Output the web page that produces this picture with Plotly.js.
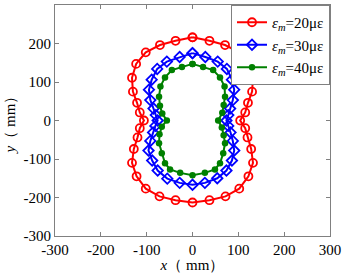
<!DOCTYPE html>
<html>
<head>
<meta charset="utf-8">
<script src="https://cdn.plot.ly/plotly-3.0.1.min.js"></script>
<style>html,body{margin:0;padding:0;background:#fff;}#chart{width:342px;height:273px;}</style>
</head>
<body>
<div id="chart"></div>
<script>
// Series names
var seriesNames = ['<i>ε</i><sub><i>m</i></sub>=20με', '<i>ε</i><sub><i>m</i></sub>=30με', '<i>ε</i><sub><i>m</i></sub>=40με'];

// Red: εm = 20με
var x20 = [0,-37,-71,-102,-123,-132,-130,-121,-115,-106,
           -115,-120,-128,-132,-122,-102,-72,-37,0,
           37,72,102,122,132,128,120,115,104,
           115,121,130,132,123,102,71,37,0];
var y20 = [216,207,196,177,147,111,75,46,21,0,
           -20,-44,-74,-110,-145,-177,-197,-207,-213,
           -207,-197,-177,-145,-110,-74,-44,-20,0,
           21,46,75,111,147,177,196,207,216];

// Blue: εm = 30με
var x30 = [0,-28,-56,-77,-89,-95,-92,-85,-80,-76,
           -81,-86,-92,-96,-88,-76,-55,-28,0,
           27,54,74,86,91,88,83,78,74,
           78,82,88,91,86,75,55,28,0];
var y30 = [175,165,153,134,106,80,53,31,14,0,
           -14,-31,-53,-78,-104,-130,-151,-162,-167,
           -162,-150,-130,-104,-78,-53,-31,-14,0,
           14,31,53,80,106,134,153,165,175];

// Green: εm = 40με
var x40 = [0,-23,-45,-60,-70,-73,-71,-66,-56,
           -67,-72,-73,-67,-60,-49,-27,0,
           27,49,60,67,71,68,64,56,
           65,68,71,70,60,45,23,0];
var y40 = [147,139,131,112,88,62,38,18,0,
           -16,-36,-59,-85,-111,-127,-136,-142,
           -136,-127,-111,-85,-59,-38,-18,0,
           20,40,62,88,112,131,139,147];

// Tick labels
var tickVals = [-300,-200,-100,0,100,200,300];
var tickText = ['-300','-200','-100','0','100','200','300'];

var serif = 'Liberation Serif, Times New Roman, serif';

var traces = [
  {x:x20, y:y20, name:seriesNames[0], type:'scatter', mode:'lines+markers',
   line:{color:'#ff0000', width:2},
   marker:{symbol:'circle-open', size:8, color:'#ff0000', line:{width:1.8, color:'#ff0000'}}},
  {x:x30, y:y30, name:seriesNames[1], type:'scatter', mode:'lines+markers',
   line:{color:'#0000ff', width:2},
   marker:{symbol:'diamond-open', size:8, color:'#0000ff', line:{width:1.8, color:'#0000ff'}}},
  {x:x40, y:y40, name:seriesNames[2], type:'scatter', mode:'lines+markers',
   line:{color:'#008000', width:2},
   marker:{symbol:'circle', size:6.5, color:'#008000'}}
];

var axisCommon = {
  range:[-300,300], tickmode:'array', tickvals:tickVals, ticktext:tickText,
  showgrid:false, zeroline:false, showline:true, linecolor:'#808080', linewidth:1,
  mirror:'ticks', ticks:'inside', ticklen:4, tickcolor:'#808080', tickwidth:1,
  tickfont:{family:serif, size:15, color:'#000'}, automargin:false
};

var layout = {
  width:342, height:273,
  margin:{l:55, r:12, t:5, b:37},
  paper_bgcolor:'#fff', plot_bgcolor:'#fff',
  font:{family:serif, size:15, color:'#000'},
  showlegend:true,
  legend:{x:1, xanchor:'right', y:1, yanchor:'top', bgcolor:'#fff',
          bordercolor:'#808080', borderwidth:1,
          font:{family:serif, size:15, color:'#000'}},
  xaxis:Object.assign({}, axisCommon, {
    title:{text:'<i>x</i>（ mm）', font:{family:serif, size:15, color:'#000'}, standoff:2}
  }),
  yaxis:Object.assign({}, axisCommon, {
    title:{text:'<i>y</i>（ mm）', font:{family:serif, size:15, color:'#000'}, standoff:4}
  })
};

Plotly.newPlot('chart', traces, layout, {displayModeBar:false, staticPlot:true});
</script>
</body>
</html>
